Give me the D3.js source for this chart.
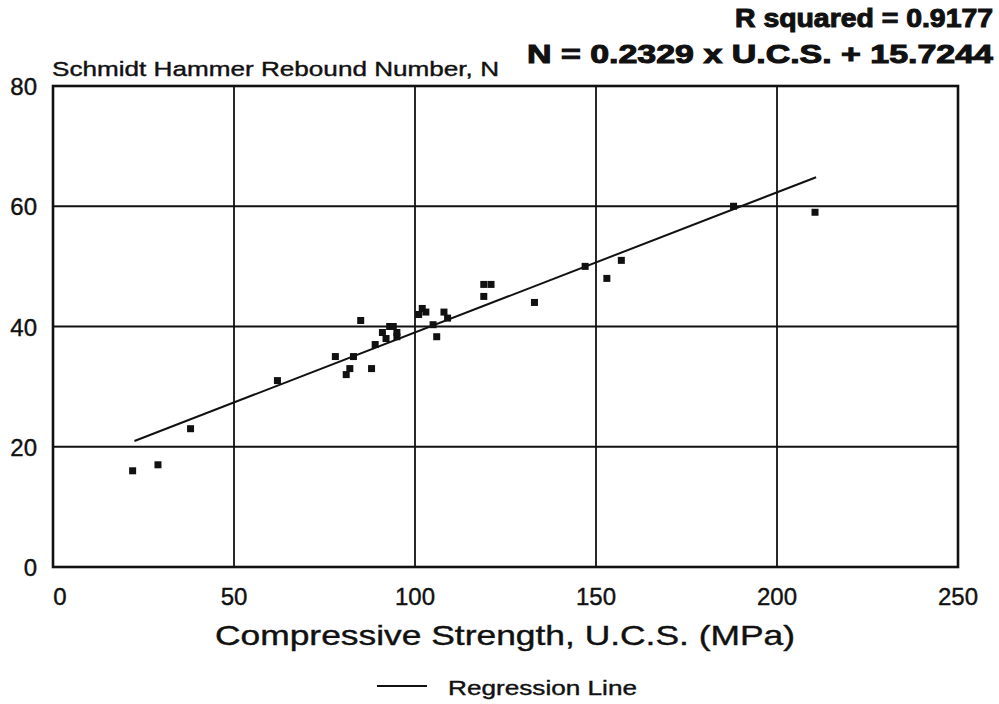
<!DOCTYPE html>
<html>
<head>
<meta charset="utf-8">
<script src="https://cdn.jsdelivr.net/npm/d3@7"></script>
<style>
  body { margin: 0; background: #fff; }
  svg { display: block; font-family: "Liberation Sans", Arial, sans-serif; }
  text { fill: #111; stroke: #111; stroke-width: 0.4; }
  text.bold { font-weight: bold; stroke-width: 1; }
</style>
</head>
<body>
<div id="chart"></div>
<script>
// data
const ucs = [22, 29, 38, 62, 78, 81, 82, 83, 85, 88, 89, 91, 92, 93, 94, 95, 95, 101, 102, 103, 105, 106, 108, 109, 119, 119, 121, 133, 147, 153, 157, 188, 210.5];
const rebound = [16, 17, 23, 31, 35, 32, 33, 35, 41, 33, 37, 39, 38, 40, 40, 39, 38.3, 42, 43, 42.4, 40.3, 38.3, 42.4, 41.4, 45, 47, 47, 44, 50, 48, 51, 60, 59];
const xTicks = [0, 50, 100, 150, 200, 250];
const yTicks = [0, 20, 40, 60, 80];
const slope = 0.2329;
const intercept = 15.7244;
const fitRange = [22.5, 210.8];

const width = 999, height = 704;
const margin = { top: 86, right: 41, bottom: 137, left: 53 };

const svg = d3.select("#chart")
  .append("svg")
  .attr("width", width)
  .attr("height", height);

const x = d3.scaleLinear().domain([0, 250]).range([margin.left, width - margin.right]);
const y = d3.scaleLinear().domain([0, 80]).range([height - margin.bottom, margin.top]);

// grid
svg.append("g")
  .selectAll("line")
  .data(xTicks.slice(1, -1))
  .enter().append("line")
  .attr("x1", d => x(d)).attr("x2", d => x(d))
  .attr("y1", y(0)).attr("y2", y(80))
  .attr("stroke", "#111").attr("stroke-width", 1.8);

svg.append("g")
  .selectAll("line")
  .data(yTicks.slice(1, -1))
  .enter().append("line")
  .attr("x1", x(0)).attr("x2", x(250))
  .attr("y1", d => y(d)).attr("y2", d => y(d))
  .attr("stroke", "#111").attr("stroke-width", 1.8);

// frame
svg.append("rect")
  .attr("x", x(0)).attr("y", y(80))
  .attr("width", x(250) - x(0)).attr("height", y(0) - y(80))
  .attr("fill", "none").attr("stroke", "#111").attr("stroke-width", 2.6);

// tick labels
svg.append("g")
  .selectAll("text")
  .data(yTicks)
  .enter().append("text")
  .attr("x", x(0) - 16)
  .attr("y", d => y(d) + 9)
  .attr("text-anchor", "end")
  .attr("font-size", 24)
  .text(d => d);

svg.append("g")
  .selectAll("text")
  .data(xTicks)
  .enter().append("text")
  .attr("x", d => x(d) + (d === 0 ? 7 : 0))
  .attr("y", y(0) + 38)
  .attr("text-anchor", "middle")
  .attr("font-size", 24)
  .text(d => d);

// regression line
svg.append("line")
  .attr("x1", x(fitRange[0])).attr("y1", y(slope * fitRange[0] + intercept))
  .attr("x2", x(fitRange[1])).attr("y2", y(slope * fitRange[1] + intercept))
  .attr("stroke", "#111").attr("stroke-width", 2);

// points
const s = 7;
svg.append("g")
  .selectAll("rect")
  .data(ucs.map((u, i) => [u, rebound[i]]))
  .enter().append("rect")
  .attr("x", d => x(d[0]) - s / 2)
  .attr("y", d => y(d[1]) - s / 2)
  .attr("width", s).attr("height", s)
  .attr("fill", "#111");

// titles
svg.append("text")
  .attr("x", 52).attr("y", 76)
  .attr("font-size", 21)
  .attr("textLength", 447).attr("lengthAdjust", "spacingAndGlyphs")
  .text("Schmidt Hammer Rebound Number, N");

svg.append("text")
  .attr("class", "bold")
  .attr("x", 735).attr("y", 27)
  .attr("font-size", 25)
  .attr("textLength", 258).attr("lengthAdjust", "spacingAndGlyphs")
  .text("R squared = 0.9177");

svg.append("text")
  .attr("class", "bold")
  .attr("x", 527).attr("y", 63)
  .attr("font-size", 25)
  .attr("textLength", 466).attr("lengthAdjust", "spacingAndGlyphs")
  .text("N = 0.2329 x U.C.S. + 15.7244");

svg.append("text")
  .attr("x", 215).attr("y", 645)
  .attr("font-size", 28)
  .attr("textLength", 580).attr("lengthAdjust", "spacingAndGlyphs")
  .text("Compressive Strength, U.C.S. (MPa)");

// legend
svg.append("line")
  .attr("x1", 377).attr("x2", 427)
  .attr("y1", 686).attr("y2", 686)
  .attr("stroke", "#111").attr("stroke-width", 2);

svg.append("text")
  .attr("x", 448).attr("y", 695)
  .attr("font-size", 21)
  .attr("textLength", 189).attr("lengthAdjust", "spacingAndGlyphs")
  .text("Regression Line");
</script>
</body>
</html>
